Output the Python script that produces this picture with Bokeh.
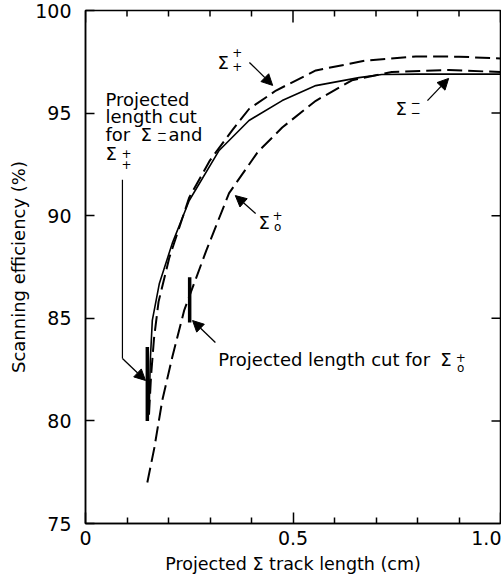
from bokeh.plotting import figure
from bokeh.models import Range1d, FixedTicker, Label, Arrow, NormalHead
from bokeh.embed import file_html
from bokeh.resources import INLINE

# ---- data ----
# Sigma-minus (solid)
len_sm = [0.154, 0.156, 0.161, 0.178, 0.209, 0.25, 0.322, 0.394, 0.474, 0.555, 0.659, 0.714, 0.80, 1.0]
eff_sm = [81.0, 82.9, 84.9, 86.7, 88.65, 90.74, 93.18, 94.64, 95.61, 96.34, 96.73, 96.88, 96.9, 96.9]
# Sigma-plus, positive decay (dashed, upper)
len_spp = [0.153, 0.158, 0.165, 0.176, 0.202, 0.25, 0.30, 0.353, 0.394, 0.459, 0.555, 0.675, 0.796, 0.90, 1.0]
eff_spp = [80.3, 82.2, 84.0, 85.8, 87.96, 90.89, 92.7, 94.15, 95.2, 96.10, 97.08, 97.56, 97.76, 97.75, 97.66]
# Sigma-plus, neutral decay (dashed, lower)
len_sp0 = [0.149, 0.166, 0.185, 0.209, 0.238, 0.291, 0.346, 0.415, 0.474, 0.555, 0.642, 0.738, 0.875, 1.0]
eff_sp0 = [77.0, 78.7, 81.0, 83.1, 85.4, 88.3, 91.1, 93.1, 94.3, 95.6, 96.6, 97.0, 97.1, 97.0]
# projected length cuts
cut_len = [0.149, 0.251]
cut_lo = [80.0, 84.8]
cut_hi = [83.6, 87.0]

x_major = [0, 0.5, 1.0]
x_minor = [0.1, 0.2, 0.3, 0.4, 0.6, 0.7, 0.8, 0.9]
x_labels = {0: "0", 0.5: "0.5", 1: "1.0"}
y_major = [75, 80, 85, 90, 95, 100]
y_right = [80, 85, 90, 95]

FONT = "DejaVu Sans"
X0, X1, Y0, Y1 = 0, 1, 75, 100

p = figure(width=501, height=586, x_range=Range1d(X0, X1), y_range=Range1d(Y0, Y1),
           output_backend="svg", toolbar_location=None,
           min_border_left=85, min_border_right=1, min_border_top=10, min_border_bottom=63)
p.grid.visible = False
p.outline_line_color = "black"
p.outline_line_width = 1.5
p.background_fill_color = "white"
p.border_fill_color = "white"

# pixel scale of the frame (415 px wide, 513 px tall)
px_x = (X1 - X0) / 415.0
px_y = (Y1 - Y0) / 513.0

xa = p.xaxis[0]
xa.ticker = FixedTicker(ticks=x_major, minor_ticks=x_minor)
xa.major_label_overrides = x_labels
xa.major_tick_in = 11
xa.major_tick_out = 0
xa.minor_tick_in = 6
xa.minor_tick_out = 0
xa.axis_line_width = 1.5
xa.major_tick_line_width = 1.5
xa.minor_tick_line_width = 1.5
xa.major_label_standoff = 7
xa.major_label_text_font = FONT
xa.major_label_text_font_size = "19px"
xa.major_label_text_color = "black"
xa.axis_label = "Projected Σ track length (cm)"
xa.axis_label_text_font = FONT
xa.axis_label_text_font_size = "17.5px"
xa.axis_label_text_font_style = "normal"
xa.axis_label_text_color = "black"
xa.axis_label_standoff = 6

ya = p.yaxis[0]
ya.ticker = FixedTicker(ticks=y_major, minor_ticks=[])
ya.major_tick_in = 9
ya.major_tick_out = 0
ya.axis_line_width = 1.5
ya.major_tick_line_width = 1.5
ya.major_label_standoff = 14
ya.major_label_text_font = FONT
ya.major_label_text_font_size = "19px"
ya.major_label_text_color = "black"
ya.axis_label = "Scanning efficiency (%)"
ya.axis_label_text_font = FONT
ya.axis_label_text_font_size = "18px"
ya.axis_label_text_font_style = "normal"
ya.axis_label_text_color = "black"
ya.axis_label_standoff = 3

# inward ticks on the top and right edges of the frame
p.segment(x0=x_major, y0=[Y1] * len(x_major), x1=x_major, y1=[Y1 - 12 * px_y] * len(x_major),
          line_color="black", line_width=1.5)
p.segment(x0=x_minor, y0=[Y1] * len(x_minor), x1=x_minor, y1=[Y1 - 6 * px_y] * len(x_minor),
          line_color="black", line_width=1.5)
p.segment(x0=[X1] * len(y_right), y0=y_right, x1=[X1 - 9 * px_x] * len(y_right), y1=y_right,
          line_color="black", line_width=1.5)

# curves
p.line(len_sm, eff_sm, line_color="black", line_width=1.6)
p.line(len_spp, eff_spp, line_color="black", line_width=2, line_dash="15 6")
p.line(len_sp0, eff_sp0, line_color="black", line_width=2, line_dash="15 6")

# cut markers
p.segment(x0=cut_len, y0=cut_lo, x1=cut_len, y1=cut_hi, line_color="black", line_width=3.5)

# leader for first cut
p.line([0.089, 0.089], [91.75, 83.04], line_color="black", line_width=1.2)


def arrow(x0, y0, x1, y1):
    p.add_layout(Arrow(end=NormalHead(size=11, fill_color="black", line_color="black"),
                       x_start=x0, y_start=y0, x_end=x1, y_end=y1,
                       line_color="black", line_width=1.3))


arrow(0.089, 83.04, 0.1446, 81.97)
arrow(0.313, 83.82, 0.258, 84.89)
arrow(0.395, 97.47, 0.451, 96.35)
arrow(0.824, 95.61, 0.875, 96.69)
arrow(0.410, 90.11, 0.361, 90.98)

BL = 5.5 * px_y  # baseline correction


def txt(x, y, s, size="18px"):
    p.add_layout(Label(x=x, y=y + BL, text=s, text_font=FONT, text_font_size=size,
                       text_align="left", text_baseline="alphabetic", text_color="black"))


def supsub(x, y_sup, y_sub, sup, sub, size="12px"):
    for yy, s in ((y_sup, sup), (y_sub, sub)):
        p.add_layout(Label(x=x, y=yy, text=s, text_font=FONT, text_font_size=size,
                           text_align="center", text_baseline="middle", text_color="black"))


# annotation block for the first cut
txt(0.048, 95.40, "Projected")
txt(0.048, 94.57, "length cut")
txt(0.048, 93.71, "for")
txt(0.1325, 93.71, "Σ")
supsub(0.184, 94.07, 93.69, "−", "−")
txt(0.200, 93.71, "and")
txt(0.048, 92.74, "Σ")
supsub(0.0988, 93.03, 92.50, "+", "+")

# second cut text
txt(0.320, 82.70, "Projected length cut for")
txt(0.855, 82.70, "Σ")
supsub(0.904, 83.09, 82.60, "+", "o")

# curve labels
txt(0.318, 97.22, "Σ")
supsub(0.366, 97.95, 97.27, "+", "+")
txt(0.747, 94.98, "Σ")
supsub(0.795, 95.52, 95.03, "−", "−")
txt(0.417, 89.38, "Σ")
supsub(0.463, 90.01, 89.43, "+", "o")

open("out.html", "w").write(file_html(p, INLINE))
